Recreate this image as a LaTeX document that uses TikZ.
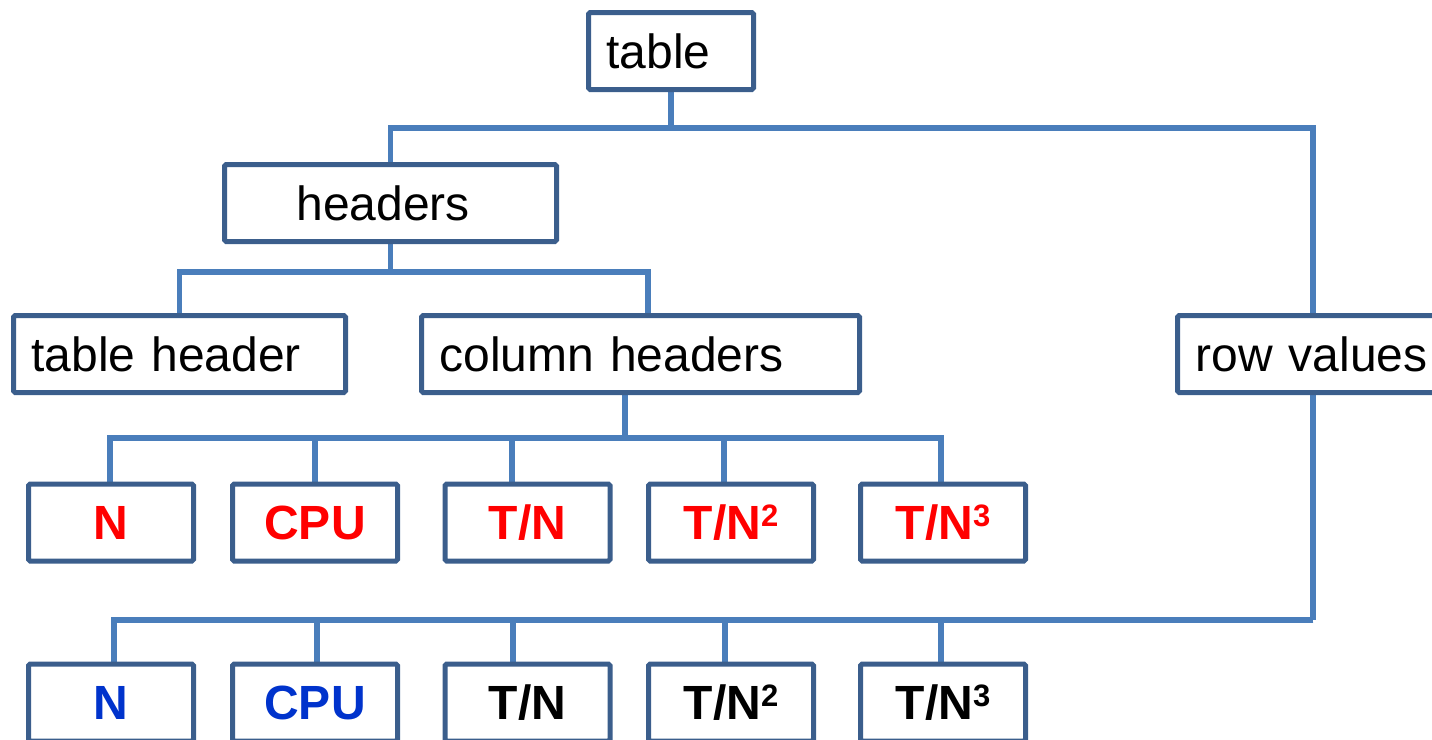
\documentclass[tikz,border=0pt]{standalone}
\usepackage{fontspec}
\setmainfont{Liberation Sans}
\usetikzlibrary{calc,backgrounds}
\definecolor{boxc}{RGB}{59,94,140}
\definecolor{linec}{RGB}{74,126,187}
\definecolor{redt}{RGB}{255,0,0}
\definecolor{bluet}{RGB}{0,51,204}
\newcommand{\supnum}[1]{\raisebox{6.3pt}{\fontsize{15.5}{15.5}\selectfont #1}}
\begin{document}
\begin{tikzpicture}[x=0.5pt,y=-0.5pt,
  box/.style={draw=boxc, line width=2.5pt, fill=white, rounded corners=0.8pt,
    inner ysep=0pt, minimum height=38.5pt, font=\fontsize{24}{28}\selectfont},
  lbox/.style={box, inner xsep=9pt, text width=#1, align=left},
  cbox/.style={box, inner xsep=0pt, minimum width=82.5pt,
    font=\fontsize{24}{28}\selectfont\bfseries},
  conn/.style={draw=linec, line width=2.75pt}]
\useasboundingbox (0,0) rectangle (1432,740);

% level 1-3
\node[lbox=64.5pt] (table) at (671,51) {table};
\node[box, inner xsep=36pt, text width=94pt, align=left] (headers) at (390.5,203) {headers};
\node[lbox=148pt] (theader) at (179.5,354) {table header};
\node[lbox=201pt] (colh) at (640.5,354) {column headers};
\node[lbox=117.5pt] (rowv) at (1313,354) {row values};

% column header leaves
\node[cbox, text=redt] (n1) at (111,522.5) {N};
\node[cbox, text=redt] (cpu1) at (315,522.5) {CPU};
\node[cbox, text=redt] (tn1) at (527.5,522.5) {T/N};
\node[cbox, text=redt] (tnb1) at (731,522.5) {T/N\supnum{2}};
\node[cbox, text=redt] (tnc1) at (943,522.5) {T/N\supnum{3}};

% row value leaves
\node[cbox, text=bluet] (n2) at (111,702.5) {N};
\node[cbox, text=bluet] (cpu2) at (315,702.5) {CPU};
\node[cbox] (tn2) at (527.5,702.5) {T/N};
\node[cbox] (tnb2) at (731,702.5) {T/N\supnum{2}};
\node[cbox] (tnc2) at (943,702.5) {T/N\supnum{3}};

\begin{scope}[on background layer]
\coordinate (b1) at (671,128);
\draw[conn] (table.south) -- (b1);
\draw[conn] (b1) -| (headers.north);
\draw[conn] (b1) -| (rowv.north);

\coordinate (b2) at (390.5,272);
\draw[conn] (headers.south) -- (b2);
\draw[conn] (b2) -| (theader.north);
\draw[conn] (b2) -| ($(colh.north west)+(229,0)$);

\coordinate (b3) at (625,438);
\draw[conn] ($(colh.south west)+(206,0)$) -- (b3);
\draw[conn] (b3) -| ($(n1.north)+(-1,0)$);
\draw[conn] (b3) -| (cpu1.north);
\draw[conn] (b3) -| ($(tn1.north)+(-15.5,0)$);
\draw[conn] (b3) -| ($(tnb1.north)+(-7,0)$);
\draw[conn] (b3) -| ($(tnc1.north)+(-2,0)$);

\coordinate (b4) at (1313,620);
\draw[conn] (rowv.south) -- (b4);
\draw[conn] (b4) -| ($(n2.north)+(3,0)$);
\draw[conn] (b4) -| ($(cpu2.north)+(2,0)$);
\draw[conn] (b4) -| ($(tn2.north)+(-14.5,0)$);
\draw[conn] (b4) -| ($(tnb2.north)+(-6,0)$);
\draw[conn] (b4) -| ($(tnc2.north)+(-2,0)$);
\end{scope}
\end{tikzpicture}
\end{document}
